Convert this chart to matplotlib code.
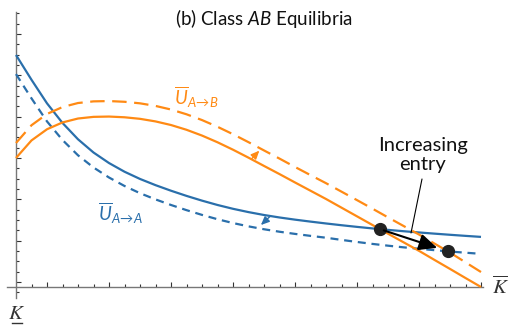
import numpy as np
import matplotlib
matplotlib.use("Agg")
import matplotlib.pyplot as plt

plt.rcParams['font.family'] = ['Lato', 'DejaVu Sans']
plt.rcParams['mathtext.fontset'] = 'custom'
plt.rcParams['mathtext.rm'] = 'Lato'
plt.rcParams['mathtext.it'] = 'Lato:italic'
plt.rcParams['mathtext.bf'] = 'Lato:bold'

# ---- data (K from K_under=0 to K_bar=30) ----
k = list(range(0, 31))
u_aa = [22.46, 20.06, 17.78, 15.88, 14.30, 13.02, 12.00, 11.16, 10.46, 9.86,
        9.32, 8.82, 8.36, 7.94, 7.57, 7.25, 6.97, 6.73, 6.52, 6.33,
        6.15, 5.98, 5.82, 5.67, 5.53, 5.40, 5.28, 5.165, 5.055, 4.95, 4.85]
u_aa_shift = [20.61, 18.26, 16.03, 14.23, 12.75, 11.57, 10.60, 9.78, 9.08, 8.48,
              7.94, 7.44, 6.98, 6.56, 6.19, 5.87, 5.59, 5.35, 5.14, 4.95,
              4.77, 4.56, 4.36, 4.17, 4.00, 3.84, 3.70, 3.565, 3.435, 3.32, 3.21]
u_ab = [12.49, 14.19, 15.27, 15.93, 16.31, 16.47, 16.50, 16.43, 16.28, 16.03,
        15.68, 15.22, 14.66, 14.01, 13.29, 12.52, 11.72, 10.93, 10.12, 9.32,
        8.52, 7.68, 6.84, 6.00, 5.16, 4.33, 3.50, 2.62, 1.75, 0.87, 0.00]
u_ab_shift = [13.94, 15.66, 16.75, 17.42, 17.81, 17.97, 18.00, 17.93, 17.78, 17.53,
              17.18, 16.72, 16.16, 15.51, 14.79, 14.02, 13.22, 12.43, 11.62, 10.83,
              10.05, 9.23, 8.41, 7.58, 6.74, 5.91, 5.08, 4.20, 3.33, 2.39, 1.45]

title = "(b) Class $AB$ Equilibria"
label_ab = r"$\overline{U}_{A\!\rightarrow\!B}$"
label_aa = r"$\overline{U}_{A\!\rightarrow\!A}$"
note = "Increasing\nentry"

BLUE = "#2a6fab"
ORANGE = "#ff8a14"

k = np.array(k, float)

def last_crossing(x, y1, y2):
    y1 = np.array(y1); y2 = np.array(y2)
    d = y1 - y2
    res = None
    for i in range(len(d) - 1):
        if d[i] * d[i + 1] < 0:
            t = d[i] / (d[i] - d[i + 1])
            res = (x[i] + t * (x[i + 1] - x[i]), y1[i] + t * (y1[i + 1] - y1[i]))
    return res

fig = plt.figure(figsize=(5.12, 3.26), dpi=100)
ax = fig.add_axes([0, 0, 1, 1])
ax.patch.set_visible(False)
ax.set_xlim(-16 / 15.5, (512 - 16) / 15.5)
ax.set_ylim((287 - 326) / 10.33, 287 / 10.33)

lw = 1.6
ax.plot(k, u_aa, color=BLUE, lw=lw, solid_capstyle='butt', zorder=3)
ax.plot(k, u_aa_shift, color=BLUE, lw=lw, dashes=(3.6, 2.6), zorder=3)
ax.plot(k, u_ab, color=ORANGE, lw=lw, solid_capstyle='butt', zorder=3)
ax.plot(k, u_ab_shift, color=ORANGE, lw=lw, dashes=(6.5, 3.4), zorder=3)

p1 = last_crossing(k, u_aa, u_ab)
p2 = last_crossing(k, u_aa_shift, u_ab_shift)
ax.plot([p1[0], p2[0]], [p1[1], p2[1]], 'o', color='#222222', ms=8.5, zorder=6)
ax.annotate("", xy=p2, xytext=p1,
            arrowprops=dict(arrowstyle='-|>,head_length=1.1,head_width=0.5',
                            color='black', lw=1.5, shrinkA=3, shrinkB=8),
            zorder=7)

# small shift arrows
ax.annotate("", xy=(15.7, 13.2), xytext=(15.2, 12.4),
            arrowprops=dict(arrowstyle='-|>,head_length=0.5,head_width=0.22',
                            color=ORANGE, lw=1.0, shrinkA=0, shrinkB=0))
ax.annotate("", xy=(15.8, 6.0), xytext=(16.4, 6.85),
            arrowprops=dict(arrowstyle='-|>,head_length=0.5,head_width=0.22',
                            color=BLUE, lw=1.0, shrinkA=0, shrinkB=0))

# spines
for s in ['top', 'right']:
    ax.spines[s].set_visible(False)
ax.spines['left'].set_position(('data', 0))
ax.spines['bottom'].set_position(('data', 0))
ax.spines['left'].set_bounds(-1.05, 26.6)
ax.spines['bottom'].set_bounds(-0.58, 30.15)
for s in ['left', 'bottom']:
    ax.spines[s].set_color('#777777')
    ax.spines[s].set_linewidth(1.0)

ax.set_xticks(np.arange(2, 31, 4))
ax.set_xticks(np.arange(1, 31, 1), minor=True)
ax.set_yticks(np.arange(0.5, 26, 4))
ax.set_yticks(np.arange(-0.5, 27, 1), minor=True)
ax.tick_params(which='both', direction='in', color='#333333', width=0.8,
               labelleft=False, labelbottom=False)
ax.tick_params(which='major', length=3.6)
ax.tick_params(which='minor', length=2.2)

# labels
fig.text(264 / 512, 1 - 18 / 326, title, ha='center', va='center',
         fontsize=13.5, color='#111111')
ax.text((196 - 16) / 15.5, (287 - 97) / 10.33, label_ab, color=ORANGE,
        fontsize=13.5, ha='center', va='center')
ax.text((120 - 16) / 15.5, (287 - 213) / 10.33, label_aa, color=BLUE,
        fontsize=13.5, ha='center', va='center')
ax.text((423 - 16) / 15.5, (287 - 155) / 10.33, note, ha='center', va='center',
        fontsize=14.5, linespacing=1.2, color='#111111')
ax.annotate("", xy=((411 - 16) / 15.5, (287 - 233) / 10.33),
            xytext=((422 - 16) / 15.5, (287 - 179) / 10.33),
            arrowprops=dict(arrowstyle='-', color='black', lw=0.8,
                            shrinkA=0, shrinkB=0))

ax.text((501 - 16) / 15.5, 0, r"$\overline{K}$", math_fontfamily='stix',
        fontsize=15, ha='center', va='center', color='#333333')
ax.text(0.05, (287 - 313) / 10.33, r"$K$", math_fontfamily='stix',
        fontsize=15, ha='center', va='center', color='#333333')
ax.plot([-0.25, 0.4], [(287 - 323) / 10.33] * 2, color='#333333', lw=1.0,
        clip_on=False)

fig.savefig("out.png", dpi=100)
